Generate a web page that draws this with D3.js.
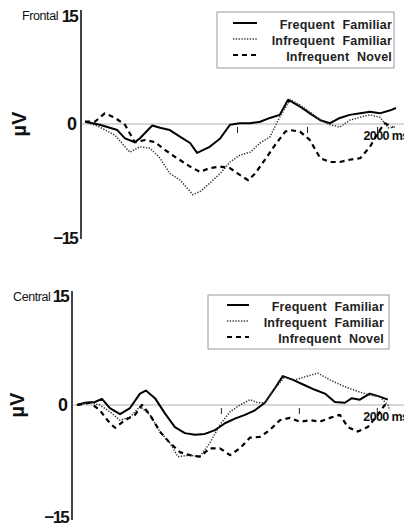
<!DOCTYPE html>
<html><head><meta charset="utf-8">
<script src="https://cdn.jsdelivr.net/npm/d3@7"></script>
<style>
html,body{margin:0;padding:0;background:#fff;}
svg{display:block;font-family:"Liberation Sans",Arial,sans-serif;}
</style></head>
<body>
<svg id="chart" width="404" height="526"></svg>
<script>
// ---- Data ----
const panelNames = ["Frontal", "Central"];
const seriesNames = ["Frequent Familiar", "Infrequent Familiar", "Infrequent Novel"];
const yTickLabels = ["15", "0", "\u221215"];
const yTickValues = [15, 0, -15];
const xTickValues = [1000, 1500, 2000];
const xTickLabel = "2000 ms";

// Frontal
const frontalFF_t = [-85, 20, 145, 200, 270, 305, 395, 450, 520, 595, 665, 715, 805, 880, 950, 1020, 1095, 1165, 1235, 1305, 1365, 1450, 1520, 1595, 1665, 1735, 1805, 1880, 1950, 2020, 2095, 2135];
const frontalFF_v = [0.3, -0.1, -0.8, -1.9, -2.4, -1.9, -0.2, -0.5, -0.8, -1.7, -2.5, -3.8, -3.0, -1.9, -0.1, 0.1, 0.1, 0.3, 0.8, 1.2, 3.2, 2.3, 1.4, 0.5, 0.1, 0.8, 1.2, 1.4, 1.6, 1.4, 1.8, 2.1];
const frontalIF_t = [-85, 20, 130, 200, 235, 305, 380, 450, 520, 595, 685, 735, 805, 880, 950, 1020, 1095, 1165, 1235, 1305, 1380, 1450, 1520, 1595, 1665, 1735, 1805, 1880, 1950, 2020, 2080, 2130];
const frontalIF_v = [0.3, -0.4, -1.5, -3.0, -3.7, -3.0, -3.2, -4.5, -6.5, -7.4, -9.3, -8.9, -7.8, -6.5, -5.0, -4.1, -3.7, -2.5, -1.7, 0.9, 3.2, 2.5, 1.6, 0.5, -0.1, -0.4, 0.5, 0.9, 1.2, 0.9, -0.5, -0.4];
const frontalIN_t = [-85, -15, 55, 130, 200, 270, 345, 415, 485, 555, 665, 735, 805, 880, 950, 1020, 1080, 1130, 1200, 1270, 1345, 1380, 1450, 1520, 1595, 1665, 1735, 1805, 1880, 1950, 2005, 2055, 2115];
const frontalIN_v = [0.3, 0.3, 1.4, 0.8, -0.1, -2.4, -2.1, -2.4, -3.4, -4.3, -5.6, -6.3, -5.8, -5.6, -5.8, -6.7, -7.4, -6.5, -4.7, -2.8, -1.0, -0.8, -1.0, -2.1, -4.5, -5.0, -5.0, -4.7, -4.5, -3.0, -1.2, 0.1, -0.4];

// Central
const centralFF_t = [77, 128, 192, 237, 288, 353, 417, 481, 519, 577, 641, 705, 769, 833, 897, 962, 1026, 1090, 1154, 1218, 1282, 1346, 1397, 1462, 1538, 1603, 1667, 1731, 1795, 1840, 1891, 1955, 2019, 2071];
const centralFF_v = [0, 0.3, 0.4, 0.8, -0.4, -1.2, -0.4, 1.5, 1.9, 0.9, -1.1, -2.9, -3.7, -3.9, -3.8, -3.3, -2.4, -1.8, -1.3, -0.7, 0.3, 2.2, 3.8, 3.3, 2.6, 2.0, 1.5, 0.4, 0.3, 0.9, 0.7, 1.5, 1.1, 0.7];
const centralIF_t = [77, 160, 224, 288, 353, 417, 481, 545, 609, 673, 724, 801, 865, 929, 994, 1058, 1122, 1186, 1237, 1282, 1346, 1410, 1474, 1538, 1622, 1699, 1795, 1891, 1955, 2019, 2071, 2083];
const centralIF_v = [0, 0.3, 0, -0.9, -2.0, -1.6, -0.2, -1.3, -3.5, -5.0, -6.8, -6.6, -6.8, -5.0, -2.6, -0.9, 0, 0.7, 0.3, 0.3, 2.2, 3.7, 3.3, 3.7, 4.2, 3.3, 2.4, 1.7, 1.3, 1.1, 0, -0.7];
const centralIN_t = [77, 160, 224, 288, 321, 385, 449, 494, 545, 609, 673, 737, 801, 865, 929, 994, 1058, 1122, 1186, 1250, 1314, 1378, 1442, 1506, 1571, 1635, 1699, 1763, 1814, 1878, 1942, 2006, 2051, 2083];
const centralIN_v = [0, 0.3, -0.7, -2.4, -3.0, -2.0, -1.3, 0, -1.3, -3.5, -5.0, -6.2, -6.6, -6.8, -5.7, -5.7, -6.6, -5.7, -4.3, -4.2, -3.3, -2.0, -1.7, -2.2, -2.0, -2.2, -1.7, -1.3, -2.9, -3.5, -2.9, -1.3, 0, 0];

const zip = (t, v) => t.map((d, i) => ({t: d, v: v[i]}));

// ---- Layout (styles/positions only) ----
const panels = [
  {name: panelNames[0], series: [zip(frontalFF_t, frontalFF_v), zip(frontalIF_t, frontalIF_v), zip(frontalIN_t, frontalIN_v)],
   xDom: [-100, 2200], xRange: [83, 405], yRange: [238, 10], axisX: 81, labX: 77, nameX: 22,
   labOff: [6, 0, 0],
   legend: {x0: 217, x1: 394, y0: 12, y1: 68, lx0: 233, lx1: 257, tx: 392, rowY: [25, 41, 57]}, muX: 19},
  {name: panelNames[1], series: [zip(centralFF_t, centralFF_v), zip(centralIF_t, centralIF_v), zip(centralIN_t, centralIN_v)],
   xDom: [45, 2200], xRange: [72, 408], yRange: [519, 291], axisX: 72, labX: 68, nameX: 13,
   labOff: [5, 0, -2],
   legend: {x0: 208, x1: 389, y0: 295, y1: 349, lx0: 227, lx1: 249, tx: 384, rowY: [307, 323, 339]}, muX: 17}
];
const styles = [
  {dash: null, width: 2, color: "#000"},
  {dash: "1.3,1.5", width: 1.5, color: "#333"},
  {dash: "5,4", width: 2.2, color: "#000"}
];

const svg = d3.select("#chart");

panels.forEach(p => {
  const x = d3.scaleLinear().domain(p.xDom).range(p.xRange);
  const y = d3.scaleLinear().domain([-15, 15]).range(p.yRange);
  const g = svg.append("g");
  const y0 = y(0);

  // zero line
  g.append("line").attr("x1", p.axisX).attr("x2", 404).attr("y1", y0).attr("y2", y0)
    .attr("stroke", "#b0b0b0").attr("stroke-width", 1.2);

  // x ticks
  const xAxis = d3.axisBottom(x).tickValues(xTickValues).tickSize(6)
    .tickFormat(d => d === 2000 ? xTickLabel : "");
  const ax = g.append("g").attr("transform", `translate(0,${y0 + 3})`).call(xAxis);
  ax.select(".domain").remove();
  ax.selectAll(".tick line").attr("stroke", "#222").attr("stroke-width", 1);
  ax.selectAll(".tick text").attr("font-size", 12.5).attr("font-weight", "bold")
    .attr("font-family", "Liberation Sans, Arial, sans-serif").attr("fill", "#111")
    .attr("text-anchor", "start").attr("dx", -14).attr("dy", 4).attr("letter-spacing", -0.6);

  // series
  const line = d3.line().x(d => x(d.t)).y(d => y(d.v)).curve(d3.curveLinear);
  p.series.forEach((s, i) => {
    g.append("path").datum(s).attr("d", line).attr("fill", "none")
      .attr("stroke", styles[i].color).attr("stroke-width", styles[i].width)
      .attr("stroke-dasharray", styles[i].dash).attr("stroke-linejoin", "round");
  });

  // panel name
  g.append("text").attr("x", p.nameX).attr("y", y(15) + 5).attr("dy", "0.36em")
    .attr("font-size", 12.5).attr("fill", "#111").attr("letter-spacing", -0.4).text(p.name);

  // y axis
  g.append("line").attr("x1", p.axisX).attr("x2", p.axisX).attr("y1", y(15)).attr("y2", y(-15) + 1)
    .attr("stroke", "#444").attr("stroke-width", 2);
  yTickValues.forEach((v, i) => {
    g.append("text").attr("x", p.labX).attr("y", y(v) + p.labOff[i]).attr("dy", "0.36em")
      .attr("text-anchor", "end").attr("font-size", i === 1 ? 18 : 17).attr("font-weight", "bold")
      .attr("letter-spacing", i === 1 ? 0 : -1.8).attr("fill", "#111").text(yTickLabels[i]);
  });
  // µV label
  g.append("text").attr("transform", `translate(${p.muX},${y0}) rotate(-90)`)
    .attr("text-anchor", "middle").attr("dy", "0.35em").attr("font-size", 20).attr("font-weight", "bold")
    .attr("fill", "#111").text("\u00b5V");

  // legend
  const L = p.legend;
  g.append("rect").attr("x", L.x0).attr("y", L.y0).attr("width", L.x1 - L.x0).attr("height", L.y1 - L.y0)
    .attr("fill", "#fff").attr("stroke", "#999").attr("stroke-width", 1);
  seriesNames.forEach((n, i) => {
    g.append("line").attr("x1", L.lx0).attr("x2", L.lx1).attr("y1", L.rowY[i] - 2).attr("y2", L.rowY[i] - 2)
      .attr("stroke", styles[i].color).attr("stroke-width", styles[i].width)
      .attr("stroke-dasharray", styles[i].dash);
    g.append("text").attr("x", L.tx).attr("y", L.rowY[i]).attr("dy", "0.34em").attr("text-anchor", "end")
      .attr("font-size", 12.5).attr("font-weight", "bold").attr("fill", "#222")
      .attr("letter-spacing", 0.2).attr("word-spacing", 4)
      .text(n);
  });
});
</script>
</body></html>
